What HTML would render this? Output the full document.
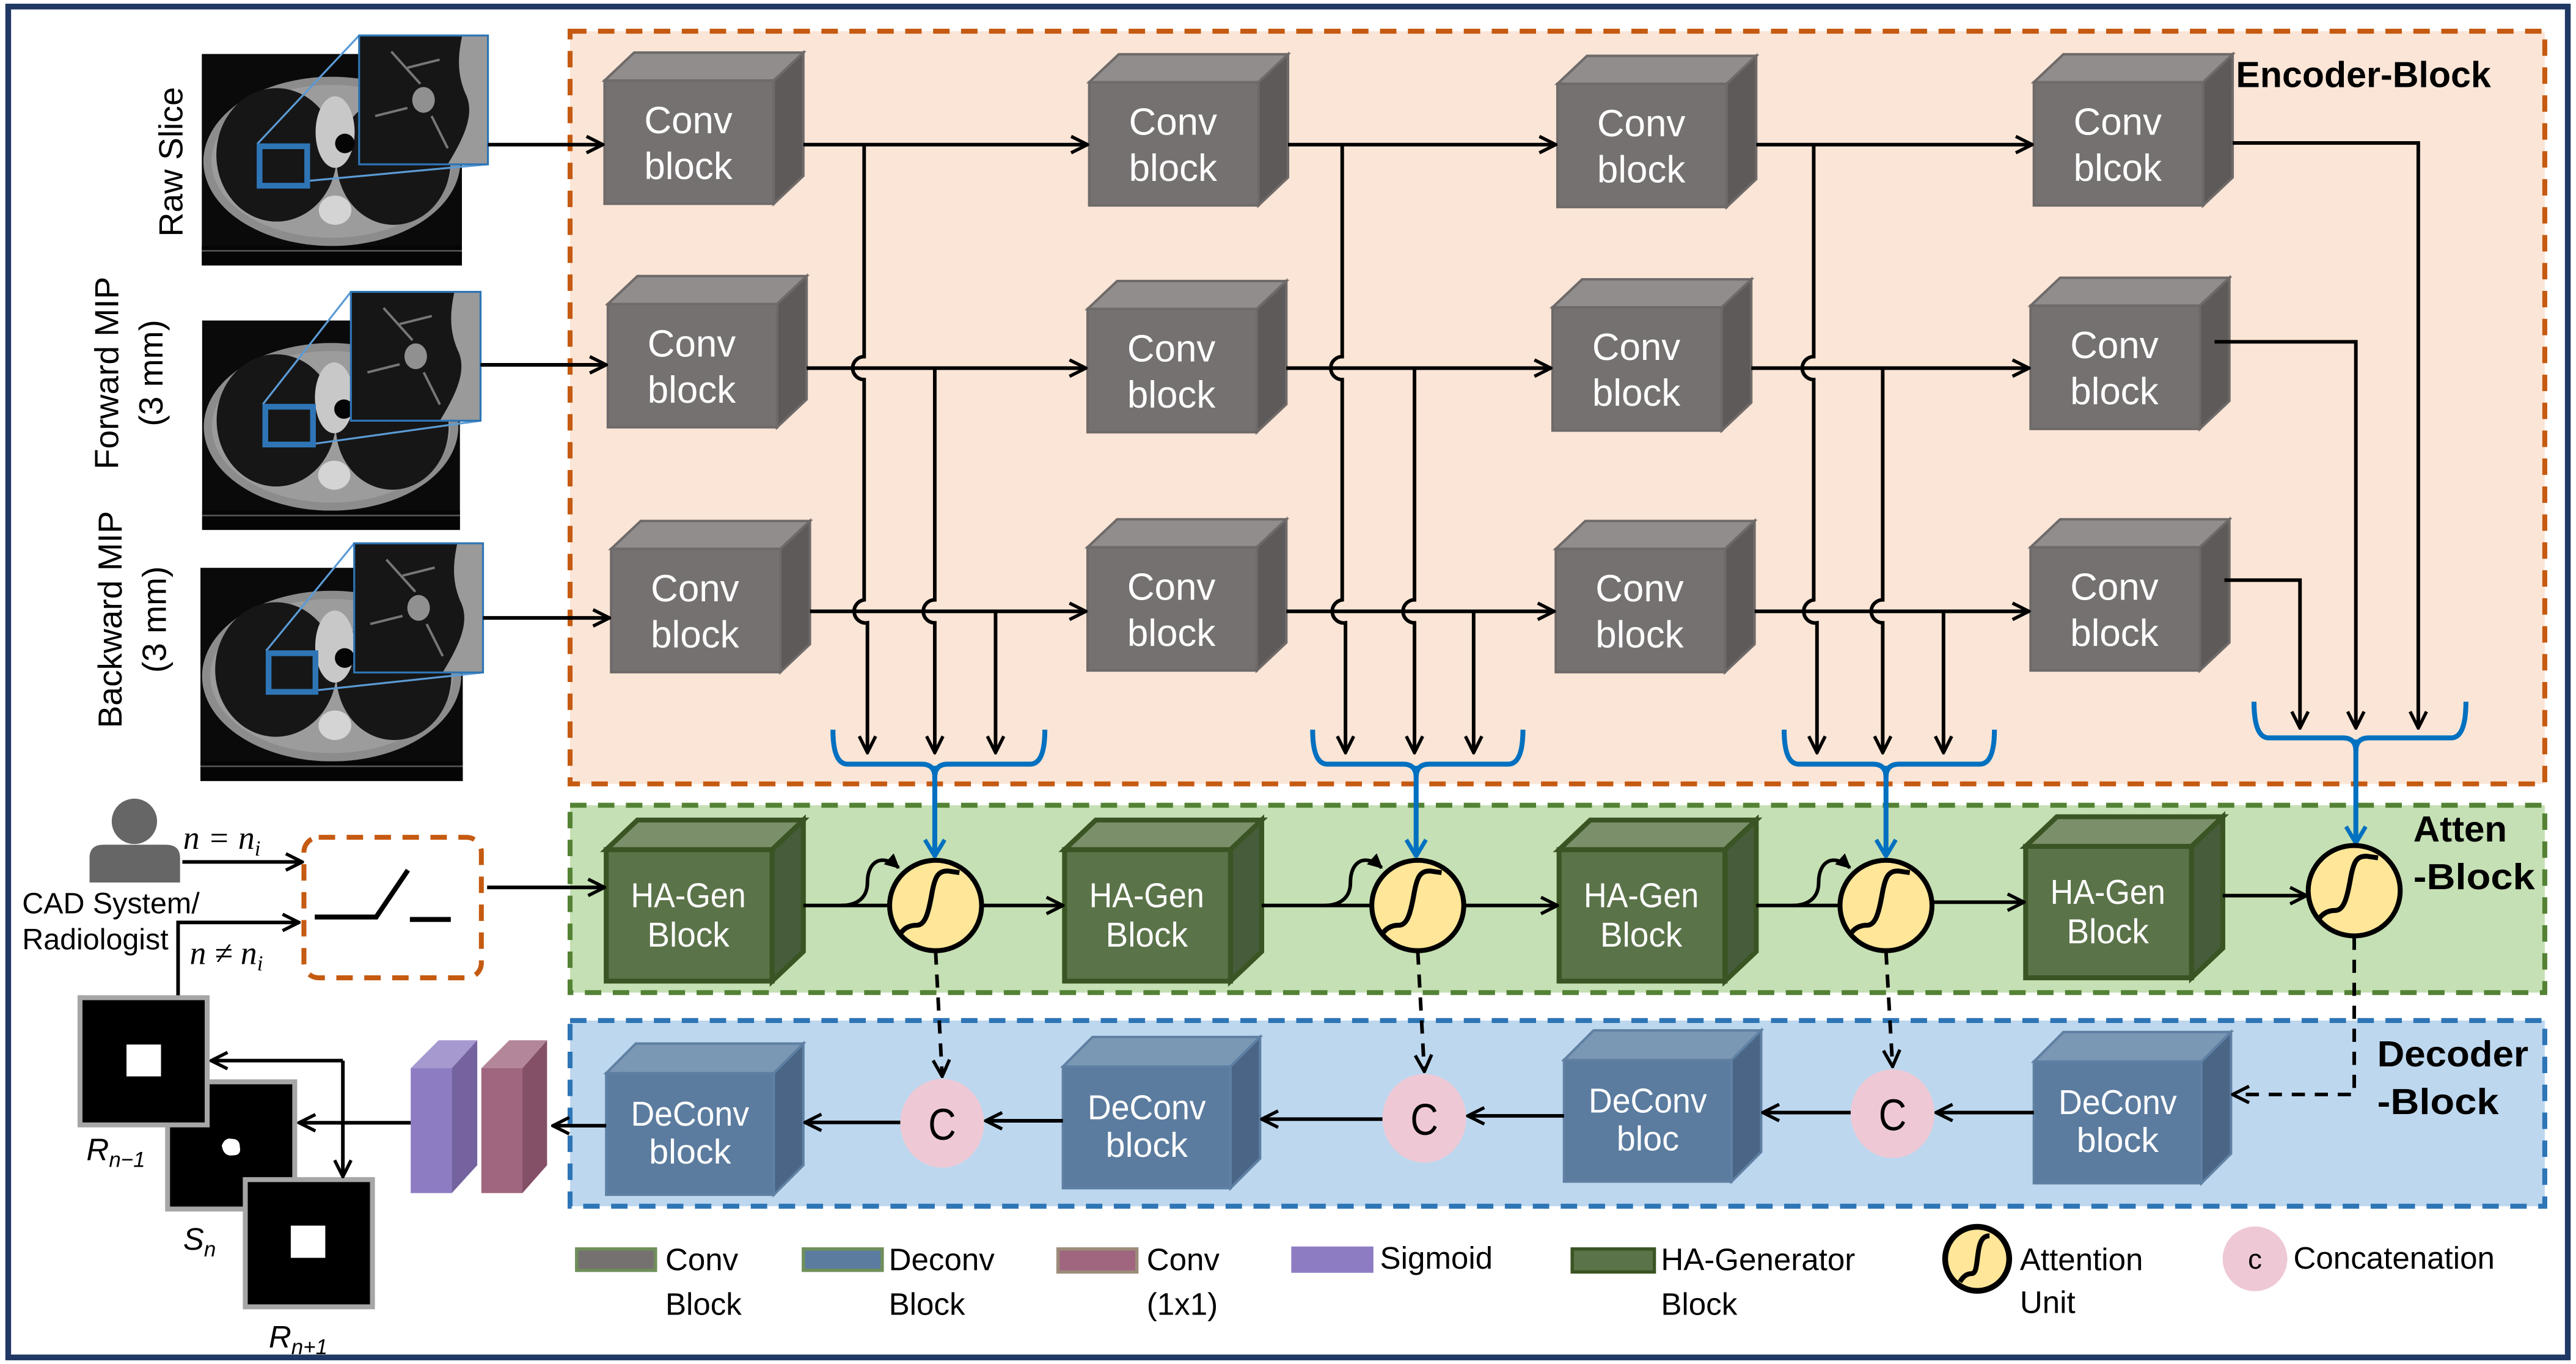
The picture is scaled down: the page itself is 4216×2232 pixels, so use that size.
<!DOCTYPE html>
<html><head><meta charset="utf-8"><style>
html,body{margin:0;padding:0;background:#fff;}
svg{display:block;}
text{font-family:"Liberation Sans",sans-serif;}
.ct{font-size:23px;fill:#fff;text-anchor:middle;}
.hg{font-size:21px;fill:#fff;text-anchor:middle;}
.lg{font-size:19px;fill:#000;}
.cv polygon,.cv rect{stroke:#6e6a69;stroke-width:1.5;}
.hgb polygon,.hgb rect{stroke:#3a5423;stroke-width:3;}
.dc polygon,.dc rect{stroke:#5f80a3;stroke-width:1.5;}
.ln{fill:none;stroke:#000;stroke-width:2.2;}
.bl{fill:none;stroke:#0070c0;stroke-width:3;}
.ds{fill:none;stroke:#000;stroke-width:2.2;stroke-dasharray:8,6;}
.mi{font-family:"Liberation Serif",serif;font-style:italic;font-size:20px;}
</style></head><body>
<svg xmlns="http://www.w3.org/2000/svg" width="4216" height="2232" viewBox="0 0 1568 830" preserveAspectRatio="none">
<defs>
<marker id="a" viewBox="0 0 12 12" refX="11" refY="6" markerWidth="12" markerHeight="12" markerUnits="userSpaceOnUse" orient="auto"><path d="M1,1 L11,6 L1,11" fill="none" stroke="#000" stroke-width="2"/></marker>
<marker id="b" viewBox="0 0 12 14" refX="11" refY="7" markerWidth="12" markerHeight="14" markerUnits="userSpaceOnUse" orient="auto"><path d="M1,1 L11,7 L1,13" fill="none" stroke="#0070c0" stroke-width="2.5"/></marker>
<marker id="f" viewBox="0 0 10 10" refX="9" refY="5" markerWidth="9" markerHeight="9" markerUnits="userSpaceOnUse" orient="auto"><path d="M0,0 L10,5 L0,10 Z" fill="#000"/></marker>
<symbol id="ctimg" viewBox="0 0 160 130">
<rect width="160" height="130" fill="#0a0a0a"/>
<ellipse cx="80" cy="66" rx="79" ry="52" fill="#8c8c8c"/>
<ellipse cx="80" cy="66" rx="74" ry="47" fill="#9c9c9c"/>
<ellipse cx="46" cy="62" rx="37" ry="41" fill="#161616"/>
<ellipse cx="118" cy="66" rx="35" ry="39" fill="#161616"/>
<ellipse cx="82" cy="48" rx="12" ry="22" fill="#c8c8c8"/>
<circle cx="88" cy="55" r="6" fill="#050505"/>
<ellipse cx="82" cy="96" rx="10" ry="9" fill="#d4d4d4"/>
<rect x="0" y="118" width="160" height="12" fill="#050505"/>
<line x1="0" y1="121" x2="160" y2="121" stroke="#555" stroke-width="1"/>
</symbol>
<symbol id="inset" viewBox="0 0 80 80">
<rect width="80" height="80" fill="#161616"/>
<path d="M64,0 H80 V80 H55 C66,62 72,48 66,36 C60,22 62,10 64,0Z" fill="#9a9a9a"/>
<ellipse cx="40" cy="40" rx="7" ry="8" fill="#909090"/>
<path d="M20,10 L38,30 M30,20 L50,15 M10,50 L30,45 M45,50 L55,70" stroke="#777" stroke-width="1.5"/>
</symbol>
</defs>

<rect x="0" y="0" width="1568" height="830" fill="#fff"/>
<rect x="5" y="4" width="1558" height="822" fill="none" stroke="#203864" stroke-width="3.5"/>

<rect x="347" y="19" width="1202" height="458" fill="#fbe5d6" stroke="#c55a11" stroke-width="3" stroke-dasharray="10,7"/>
<rect x="347" y="490" width="1202" height="114" fill="#c5e0b4" stroke="#548235" stroke-width="3" stroke-dasharray="10,7"/>
<rect x="347" y="621" width="1202" height="113" fill="#bdd7ee" stroke="#2e75b6" stroke-width="3" stroke-dasharray="10,7"/>

<text x="1361" y="53" font-size="22" font-weight="bold">Encoder-Block</text>
<text x="1469" y="512" font-size="22" font-weight="bold" textLength="57" lengthAdjust="spacingAndGlyphs">Atten</text>
<text x="1469" y="541" font-size="22" font-weight="bold" textLength="74" lengthAdjust="spacingAndGlyphs">-Block</text>
<text x="1447" y="649" font-size="22" font-weight="bold" textLength="92" lengthAdjust="spacingAndGlyphs">Decoder</text>
<text x="1447" y="678" font-size="22" font-weight="bold" textLength="74" lengthAdjust="spacingAndGlyphs">-Block</text>

<use href="#ctimg" x="122.8" y="30.2" width="158.4" height="134"/>
<use href="#ctimg" x="122" y="195" width="159" height="127.5"/>
<use href="#ctimg" x="122" y="345.4" width="159.7" height="130"/>
<g stroke="#5b9bd5" stroke-width="1.2">
<line x1="156.6" y1="87.6" x2="218.6" y2="21.6"/><line x1="188" y1="110" x2="297" y2="100"/>
<line x1="160" y1="246" x2="213.6" y2="177.6"/><line x1="191.5" y1="270" x2="292.5" y2="256"/>
<line x1="162" y1="396" x2="215.6" y2="330.6"/><line x1="193" y1="420" x2="294" y2="409.2"/>
</g>
<use href="#inset" x="218.6" y="21.6" width="78.4" height="78.4"/>
<use href="#inset" x="213.6" y="177.6" width="78.9" height="78.4"/>
<use href="#inset" x="215.6" y="330.6" width="78.4" height="78.6"/>
<g fill="none" stroke="#2e75b6">
<rect x="218.6" y="21.6" width="78.4" height="78.4" stroke-width="1.2"/>
<rect x="213.6" y="177.6" width="78.9" height="78.4" stroke-width="1.2"/>
<rect x="215.6" y="330.6" width="78.4" height="78.6" stroke-width="1.2"/>
<rect x="158" y="89" width="29" height="24" stroke-width="3.5"/>
<rect x="161.5" y="247.5" width="29" height="23" stroke-width="3.5"/>
<rect x="163.5" y="397.5" width="28.5" height="23.5" stroke-width="3.5"/>
</g>
<text transform="translate(111,98.5) rotate(-90)" font-size="20.5" text-anchor="middle">Raw Slice</text>
<text transform="translate(72,227) rotate(-90)" font-size="20.5" text-anchor="middle">Forward MIP</text>
<text transform="translate(99,227) rotate(-90)" font-size="20.5" text-anchor="middle">(3 mm)</text>
<text transform="translate(74,377) rotate(-90)" font-size="20.5" text-anchor="middle">Backward MIP</text>
<text transform="translate(101,377) rotate(-90)" font-size="20.5" text-anchor="middle">(3 mm)</text>

<g class="cv">
<rect x="368" y="49" width="103" height="75" fill="#767171"/><polygon points="368,49 386,32 489,32 471,49" fill="#918d8c"/><polygon points="471,49 489,32 489,107 471,124" fill="#5e5a59"/>
<rect x="370" y="185" width="103" height="75" fill="#767171"/><polygon points="370,185 388,168 491,168 473,185" fill="#918d8c"/><polygon points="473,185 491,168 491,243 473,260" fill="#5e5a59"/>
<rect x="372" y="334" width="103" height="75" fill="#767171"/><polygon points="372,334 390,317 493,317 475,334" fill="#918d8c"/><polygon points="475,334 493,317 493,392 475,409" fill="#5e5a59"/>
<rect x="663" y="50" width="103" height="75" fill="#767171"/><polygon points="663,50 681,33 784,33 766,50" fill="#918d8c"/><polygon points="766,50 784,33 784,108 766,125" fill="#5e5a59"/>
<rect x="662" y="188" width="103" height="75" fill="#767171"/><polygon points="662,188 680,171 783,171 765,188" fill="#918d8c"/><polygon points="765,188 783,171 783,246 765,263" fill="#5e5a59"/>
<rect x="662" y="333" width="103" height="75" fill="#767171"/><polygon points="662,333 680,316 783,316 765,333" fill="#918d8c"/><polygon points="765,333 783,316 783,391 765,408" fill="#5e5a59"/>
<rect x="948" y="51" width="103" height="75" fill="#767171"/><polygon points="948,51 966,34 1069,34 1051,51" fill="#918d8c"/><polygon points="1051,51 1069,34 1069,109 1051,126" fill="#5e5a59"/>
<rect x="945" y="187" width="103" height="75" fill="#767171"/><polygon points="945,187 963,170 1066,170 1048,187" fill="#918d8c"/><polygon points="1048,187 1066,170 1066,245 1048,262" fill="#5e5a59"/>
<rect x="947" y="334" width="103" height="75" fill="#767171"/><polygon points="947,334 965,317 1068,317 1050,334" fill="#918d8c"/><polygon points="1050,334 1068,317 1068,392 1050,409" fill="#5e5a59"/>
<rect x="1238" y="50" width="103" height="75" fill="#767171"/><polygon points="1238,50 1256,33 1359,33 1341,50" fill="#918d8c"/><polygon points="1341,50 1359,33 1359,108 1341,125" fill="#5e5a59"/>
<rect x="1236" y="186" width="103" height="75" fill="#767171"/><polygon points="1236,186 1254,169 1357,169 1339,186" fill="#918d8c"/><polygon points="1339,186 1357,169 1357,244 1339,261" fill="#5e5a59"/>
<rect x="1236" y="333" width="103" height="75" fill="#767171"/><polygon points="1236,333 1254,316 1357,316 1339,333" fill="#918d8c"/><polygon points="1339,333 1357,316 1357,391 1339,408" fill="#5e5a59"/>
</g>
<g class="ct">
<text x="419" y="81">Conv</text><text x="419" y="109">block</text>
<text x="421" y="217">Conv</text><text x="421" y="245">block</text>
<text x="423" y="366">Conv</text><text x="423" y="394">block</text>
<text x="714" y="82">Conv</text><text x="714" y="110">block</text>
<text x="713" y="220">Conv</text><text x="713" y="248">block</text>
<text x="713" y="365">Conv</text><text x="713" y="393">block</text>
<text x="999" y="83">Conv</text><text x="999" y="111">block</text>
<text x="996" y="219">Conv</text><text x="996" y="247">block</text>
<text x="998" y="366">Conv</text><text x="998" y="394">block</text>
<text x="1289" y="82">Conv</text><text x="1289" y="110">blcok</text>
<text x="1287" y="218">Conv</text><text x="1287" y="246">block</text>
<text x="1287" y="365">Conv</text><text x="1287" y="393">block</text>
</g>

<g class="ln">
<path d="M297,88 H367" marker-end="url(#a)"/>
<path d="M292.5,222 H369" marker-end="url(#a)"/>
<path d="M294,376 H371" marker-end="url(#a)"/>
<path d="M489,88 H662" marker-end="url(#a)"/>
<path d="M784,88 H947" marker-end="url(#a)"/>
<path d="M1069,88 H1237" marker-end="url(#a)"/>
<path d="M491,224 H661" marker-end="url(#a)"/>
<path d="M783,224 H944" marker-end="url(#a)"/>
<path d="M1066,224 H1235" marker-end="url(#a)"/>
<path d="M493,372 H661" marker-end="url(#a)"/>
<path d="M783,372 H946" marker-end="url(#a)"/>
<path d="M1068,372 H1235" marker-end="url(#a)"/>
<path d="M1359,87 H1472 V443" marker-end="url(#a)"/>
<path d="M1348,208 H1434 V443" marker-end="url(#a)"/>
<path d="M1354,353 H1400 V443" marker-end="url(#a)"/>
<path d="M526,88 V217 A7,7 0 0 0 526,231 V365 A7,7 0 0 0 528,379 V458" marker-end="url(#a)"/>
<path d="M569,224 V365 A7,7 0 0 0 569,379 V458" marker-end="url(#a)"/>
<path d="M606,372 V458" marker-end="url(#a)"/>
<path d="M817,88 V217 A7,7 0 0 0 817,231 V365 A7,7 0 0 0 819,379 V458" marker-end="url(#a)"/>
<path d="M861,224 V365 A7,7 0 0 0 861,379 V458" marker-end="url(#a)"/>
<path d="M897,372 V458" marker-end="url(#a)"/>
<path d="M1104,88 V217 A7,7 0 0 0 1104,231 V365 A7,7 0 0 0 1106,379 V458" marker-end="url(#a)"/>
<path d="M1146,224 V365 A7,7 0 0 0 1146,379 V458" marker-end="url(#a)"/>
<path d="M1183,372 V458" marker-end="url(#a)"/>
</g>

<g class="bl">
<path d="M507,444 Q507,465 516,465 H561 Q569,465 569,473 Q569,465 577,465 H627 Q636,465 636,444"/>
<path d="M569,466 V521" marker-end="url(#b)"/>
<path d="M799,444 Q799,465 808,465 H854 Q862,465 862,473 Q862,465 870,465 H918 Q927,465 927,444"/>
<path d="M862,466 V521" marker-end="url(#b)"/>
<path d="M1086,444 Q1086,465 1095,465 H1140 Q1148,465 1148,473 Q1148,465 1156,465 H1205 Q1214,465 1214,444"/>
<path d="M1148,466 V521" marker-end="url(#b)"/>
<path d="M1372,427 Q1372,449 1381,449 H1426 Q1434,449 1434,457 Q1434,449 1442,449 H1492 Q1501,449 1501,427"/>
<path d="M1434,450 V513" marker-end="url(#b)"/>
</g>

<g class="hgb">
<rect x="369" y="517" width="101" height="80" fill="#5b7349"/><polygon points="369,517 388,499 489,499 470,517" fill="#7b8f6a"/><polygon points="470,517 489,499 489,579 470,597" fill="#475c3a"/>
<rect x="648" y="517" width="101" height="80" fill="#5b7349"/><polygon points="648,517 667,499 768,499 749,517" fill="#7b8f6a"/><polygon points="749,517 768,499 768,579 749,597" fill="#475c3a"/>
<rect x="949" y="517" width="101" height="80" fill="#5b7349"/><polygon points="949,517 968,499 1069,499 1050,517" fill="#7b8f6a"/><polygon points="1050,517 1069,499 1069,579 1050,597" fill="#475c3a"/>
<rect x="1233" y="515" width="101" height="80" fill="#5b7349"/><polygon points="1233,515 1252,497 1353,497 1334,515" fill="#7b8f6a"/><polygon points="1334,515 1353,497 1353,577 1334,595" fill="#475c3a"/>
</g>
<g class="hg">
<text x="419" y="552" textLength="70" lengthAdjust="spacingAndGlyphs">HA-Gen</text><text x="419" y="576" textLength="50" lengthAdjust="spacingAndGlyphs">Block</text>
<text x="698" y="552" textLength="70" lengthAdjust="spacingAndGlyphs">HA-Gen</text><text x="698" y="576" textLength="50" lengthAdjust="spacingAndGlyphs">Block</text>
<text x="999" y="552" textLength="70" lengthAdjust="spacingAndGlyphs">HA-Gen</text><text x="999" y="576" textLength="50" lengthAdjust="spacingAndGlyphs">Block</text>
<text x="1283" y="550" textLength="70" lengthAdjust="spacingAndGlyphs">HA-Gen</text><text x="1283" y="574" textLength="50" lengthAdjust="spacingAndGlyphs">Block</text>
</g>

<g class="dc">
<rect x="369" y="653" width="102" height="74" fill="#5b7c9f"/><polygon points="369,653 387,635 489,635 471,653" fill="#7a97b4"/><polygon points="471,653 489,635 489,709 471,727" fill="#4a6585"/>
<rect x="647" y="649" width="102" height="74" fill="#5b7c9f"/><polygon points="647,649 665,631 767,631 749,649" fill="#7a97b4"/><polygon points="749,649 767,631 767,705 749,723" fill="#4a6585"/>
<rect x="952" y="645" width="102" height="74" fill="#5b7c9f"/><polygon points="952,645 970,627 1072,627 1054,645" fill="#7a97b4"/><polygon points="1054,645 1072,627 1072,701 1054,719" fill="#4a6585"/>
<rect x="1238" y="646" width="102" height="74" fill="#5b7c9f"/><polygon points="1238,646 1256,628 1358,628 1340,646" fill="#7a97b4"/><polygon points="1340,646 1358,628 1358,702 1340,720" fill="#4a6585"/>
</g>
<g class="hg">
<text x="420" y="685" textLength="72" lengthAdjust="spacingAndGlyphs">DeConv</text><text x="420" y="708" textLength="50" lengthAdjust="spacingAndGlyphs">block</text>
<text x="698" y="681" textLength="72" lengthAdjust="spacingAndGlyphs">DeConv</text><text x="698" y="704" textLength="50" lengthAdjust="spacingAndGlyphs">block</text>
<text x="1003" y="677" textLength="72" lengthAdjust="spacingAndGlyphs">DeConv</text><text x="1003" y="700" textLength="38" lengthAdjust="spacingAndGlyphs">bloc</text>
<text x="1289" y="678" textLength="72" lengthAdjust="spacingAndGlyphs">DeConv</text><text x="1289" y="701" textLength="50" lengthAdjust="spacingAndGlyphs">block</text>
</g>

<g class="ln">
<path d="M296.5,540 H368" marker-end="url(#a)"/>
<path d="M489,551 H541"/>
<path d="M597.5,551 H647" marker-end="url(#a)"/>
<path d="M768,551 H835"/>
<path d="M891,551 H948" marker-end="url(#a)"/>
<path d="M1069,551 H1120"/>
<path d="M1176,549 H1232" marker-end="url(#a)"/>
<path d="M1353,545 H1404" marker-end="url(#a)"/>
<path d="M512,551 C522,551 528,546 528,537 C528,524 537,519 547,528" marker-end="url(#f)"/>
<path d="M806,551 C816,551 822,546 822,537 C822,524 831,519 841,528" marker-end="url(#f)"/>
<path d="M1091,551 C1101,551 1107,546 1107,537 C1107,524 1116,519 1126,528" marker-end="url(#f)"/>
</g>
<g stroke="#000" stroke-width="3">
<ellipse cx="569.5" cy="551" rx="28" ry="27.5" fill="#ffe699"/>
<ellipse cx="863" cy="551" rx="28" ry="27.5" fill="#ffe699"/>
<ellipse cx="1148" cy="551" rx="28" ry="27.5" fill="#ffe699"/>
<ellipse cx="1433" cy="542" rx="28" ry="27.5" fill="#ffe699"/>
</g>
<g fill="none" stroke="#000" stroke-width="3">
<path d="M547.5,569 Q551,563 558,563 C563,563 565,556 567,545 C569,533 571,530 577,530 L584,531"/>
<path d="M841,569 Q844.5,563 851.5,563 C856.5,563 858.5,556 860.5,545 C862.5,533 864.5,530 870.5,530 L877.5,531"/>
<path d="M1126,569 Q1129.5,563 1136.5,563 C1141.5,563 1143.5,556 1145.5,545 C1147.5,533 1149.5,530 1155.5,530 L1162.5,531"/>
<path d="M1411,560 Q1414.5,554 1421.5,554 C1426.5,554 1428.5,547 1430.5,536 C1432.5,524 1434.5,521 1440.5,521 L1447.5,522"/>
</g>

<g class="ds">
<path d="M569.5,579 L573.5,655" marker-end="url(#a)"/>
<path d="M863,579 L867,652" marker-end="url(#a)"/>
<path d="M1148,579 L1152,649" marker-end="url(#a)"/>
<path d="M1433,570 V666 H1359" marker-end="url(#a)"/>
</g>
<g fill="#eec9d5">
<ellipse cx="573.5" cy="683.5" rx="25.5" ry="27"/>
<ellipse cx="867" cy="680.5" rx="25.5" ry="27"/>
<ellipse cx="1152" cy="677.7" rx="25.5" ry="27"/>
</g>
<g font-size="27" text-anchor="middle" fill="#000">
<text x="573.5" y="693.5" textLength="17" lengthAdjust="spacingAndGlyphs">C</text>
<text x="867" y="690.5" textLength="17" lengthAdjust="spacingAndGlyphs">C</text>
<text x="1152" y="687.7" textLength="17" lengthAdjust="spacingAndGlyphs">C</text>
</g>
<g class="ln">
<path d="M548,683 H490" marker-end="url(#a)"/>
<path d="M647,682 H600" marker-end="url(#a)"/>
<path d="M841.5,681 H768" marker-end="url(#a)"/>
<path d="M952,679 H893.5" marker-end="url(#a)"/>
<path d="M1126.5,677 H1073" marker-end="url(#a)"/>
<path d="M1238,677 H1178.5" marker-end="url(#a)"/>
<path d="M369,685 H336.5" marker-end="url(#a)"/>
</g>

<rect x="250" y="650" width="25" height="76" fill="#8e7cc3"/>
<polygon points="250,650 267,633 290.5,633 275,650" fill="#a699d0"/>
<polygon points="275,650 290.5,633 290.5,709 275,726" fill="#7563a0"/>
<rect x="293" y="650" width="25" height="76" fill="#a0657f"/>
<polygon points="293,650 310,633 333,633 318,650" fill="#b48699"/>
<polygon points="318,650 333,633 333,709 318,726" fill="#845067"/>

<circle cx="81.8" cy="499.8" r="13.8" fill="#666"/>
<path d="M54.5,537 V522 Q54.5,514 63,514 H101 Q109.6,514 109.6,522 V537 Z" fill="#666"/>
<text x="13.5" y="555.7" font-size="18">CAD System/</text>
<text x="13.5" y="577.6" font-size="18">Radiologist</text>
<text x="111.5" y="516.6" class="mi">n = n<tspan font-size="13" dy="4">i</tspan></text>
<text x="115.5" y="586.6" class="mi">n ≠ n<tspan font-size="13" dy="4">i</tspan></text>
<g class="ln">
<path d="M111,524.5 H184" marker-end="url(#a)"/>
<path d="M108.4,606 V561.3 H182" marker-end="url(#a)"/>
</g>
<rect x="185" y="509.5" width="108" height="85.5" rx="9" fill="none" stroke="#c55a11" stroke-width="3" stroke-dasharray="10,7"/>
<path d="M191.6,558 H229 L248.3,529.5" fill="none" stroke="#000" stroke-width="3"/>
<path d="M249.5,559.5 H274.4" fill="none" stroke="#000" stroke-width="3"/>

<rect x="102" y="658.3" width="77.4" height="77.4" fill="#000" stroke="#a6a6a6" stroke-width="3"/>
<path d="M135,697 q2,-5 6,-4 q5,0 5,5 q1,5 -4,5 q-6,1 -7,-6z" fill="#fff"/>
<rect x="48.7" y="607.1" width="77.4" height="77.4" fill="#000" stroke="#a6a6a6" stroke-width="3"/>
<rect x="77" y="635.6" width="21" height="19.4" fill="#fff"/>
<rect x="149.3" y="717.8" width="77.4" height="77.4" fill="#000" stroke="#a6a6a6" stroke-width="3"/>
<rect x="177" y="745.8" width="21" height="19.6" fill="#fff"/>
<g class="ln">
<path d="M208.7,645.4 H128.5" marker-end="url(#a)"/>
<path d="M208.7,645.4 V716" marker-end="url(#a)"/>
<path d="M250,683.2 H182" marker-end="url(#a)"/>
</g>
<text x="52.6" y="706" font-family="Liberation Serif,serif" font-style="italic" font-size="19">R<tspan font-size="13" dy="4">n−1</tspan></text>
<text x="111.5" y="760.5" font-family="Liberation Serif,serif" font-style="italic" font-size="19">S<tspan font-size="13" dy="4">n</tspan></text>
<text x="163.6" y="820" font-family="Liberation Serif,serif" font-style="italic" font-size="19">R<tspan font-size="13" dy="4">n+1</tspan></text>

<rect x="351" y="760" width="48" height="13" fill="#767171" stroke="#6f8f5a" stroke-width="2"/>
<text class="lg" x="405" y="773">Conv</text><text class="lg" x="405" y="800">Block</text>
<rect x="489" y="760" width="48" height="13" fill="#5b7c9f" stroke="#6f8f5a" stroke-width="2"/>
<text class="lg" x="541" y="773">Deconv</text><text class="lg" x="541" y="800">Block</text>
<rect x="644" y="760" width="48" height="14" fill="#a0657f" stroke="#9c8c7a" stroke-width="2"/>
<text class="lg" x="698" y="773">Conv</text><text class="lg" x="698" y="800">(1x1)</text>
<rect x="786" y="758.5" width="50" height="16" fill="#8e7cc3"/>
<text class="lg" x="840" y="772">Sigmoid</text>
<rect x="957" y="760" width="50" height="14" fill="#5b7349" stroke="#3a5423" stroke-width="2"/>
<text class="lg" x="1011" y="773">HA-Generator</text><text class="lg" x="1011" y="800">Block</text>
<ellipse cx="1203.5" cy="766" rx="19.5" ry="19.5" fill="#ffe699" stroke="#000" stroke-width="3.5"/>
<path d="M1193,780 Q1196,775 1200,775 C1203,775 1203,770 1204,763 C1205,755 1207,752 1211,752" fill="none" stroke="#000" stroke-width="3"/>
<text class="lg" x="1229.5" y="773">Attention</text><text class="lg" x="1229.5" y="799">Unit</text>
<circle cx="1372.6" cy="766" r="19.7" fill="#eec9d5"/>
<text x="1372.6" y="772" font-size="17" text-anchor="middle">c</text>
<text class="lg" x="1396" y="772">Concatenation</text>
</svg>
</body></html>
